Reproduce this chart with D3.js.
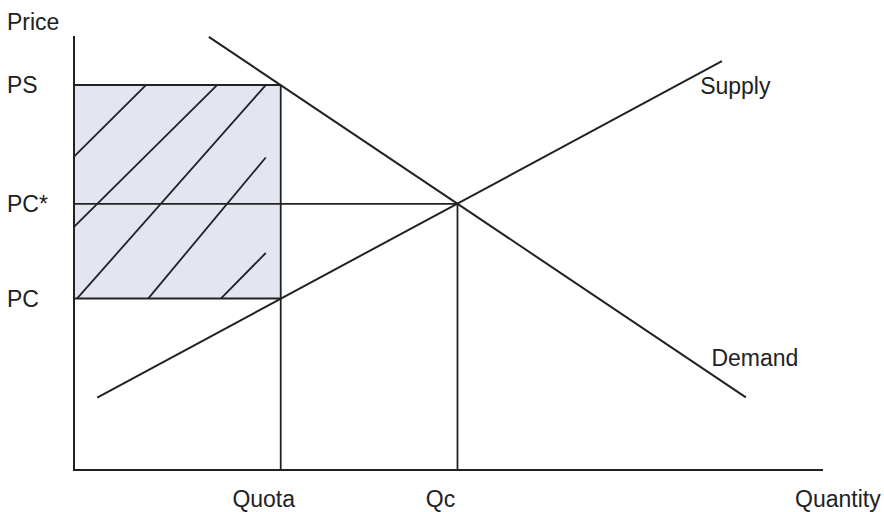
<!DOCTYPE html>
<html><head><meta charset="utf-8">
<script src="https://cdn.jsdelivr.net/npm/d3@7"></script>
<style>
html,body{margin:0;padding:0;background:#fff;}
svg{display:block;}
text{font-family:"Liberation Sans",Arial,sans-serif;font-size:23px;fill:#222;}
</style></head>
<body>
<svg id="chart" width="884" height="512"></svg>
<script>
// ---- data (in chart units: quantity 0-100, price 0-100) ----
const priceLevels = [
  {label: "PS", value: 88.7},
  {label: "PC*", value: 61.3},
  {label: "PC", value: 39.5}
];
const quantityLevels = [
  {label: "Quota", value: 27.6},
  {label: "Qc", value: 51.2}
];
const demandLine = [{q: 18.0, p: 99.8}, {q: 89.7, p: 16.75}];
const supplyLine = [{q: 3.1, p: 16.7}, {q: 86.5, p: 94.2}];
const hatchLines = [
  [{q: 0.0, p: 72.2}, {q: 9.6, p: 88.7}],
  [{q: 0.0, p: 56.0}, {q: 19.1, p: 88.7}],
  [{q: 0.4, p: 39.5}, {q: 25.6, p: 88.7}],
  [{q: 9.9, p: 39.5}, {q: 25.6, p: 72.0}],
  [{q: 19.6, p: 39.5}, {q: 25.6, p: 50.0}]
];
const curveLabels = [
  {text: "Supply", q: 83.6, p: 86.6},
  {text: "Demand", q: 85.1, p: 24.0}
];
const axisTitles = {y: "Price", x: "Quantity"};

// ---- drawing ----
const svg = d3.select("#chart");
const x = d3.scaleLinear().domain([0, 100]).range([74, 823]);
const y = d3.scaleLinear().domain([0, 100]).range([470, 36]);
const line = d3.line().x(d => x(d.q)).y(d => y(d.p));
const ink = "#222";

const PS = priceLevels[0].value, PCs = priceLevels[1].value, PC = priceLevels[2].value;
const quota = quantityLevels[0].value, qc = quantityLevels[1].value;

// shaded rectangle
svg.append("rect")
  .attr("x", x(0)).attr("y", y(PS))
  .attr("width", x(quota) - x(0)).attr("height", y(PC) - y(PS))
  .attr("fill", "#e3e6f0");

// hatching
svg.selectAll(".hatch").data(hatchLines).enter().append("path")
  .attr("class", "hatch").attr("d", line)
  .attr("stroke", ink).attr("stroke-width", 1.8).attr("fill", "none");

// horizontal price lines
svg.append("path").attr("d", line([{q: 0, p: PS}, {q: quota, p: PS}]))
  .attr("stroke", ink).attr("stroke-width", 2).attr("fill", "none");
svg.append("path").attr("d", line([{q: 0, p: PC}, {q: quota, p: PC}]))
  .attr("stroke", ink).attr("stroke-width", 2).attr("fill", "none");
svg.append("path").attr("d", line([{q: 0, p: PCs}, {q: qc, p: PCs}]))
  .attr("stroke", ink).attr("stroke-width", 1.8).attr("fill", "none");

// vertical quantity lines
svg.append("path").attr("d", line([{q: quota, p: PS}, {q: quota, p: 0}]))
  .attr("stroke", ink).attr("stroke-width", 1.8).attr("fill", "none");
svg.append("path").attr("d", line([{q: qc, p: PCs}, {q: qc, p: 0}]))
  .attr("stroke", ink).attr("stroke-width", 1.8).attr("fill", "none");

// supply & demand
[demandLine, supplyLine].forEach(l => {
  svg.append("path").attr("d", line(l))
    .attr("stroke", ink).attr("stroke-width", 2).attr("fill", "none");
});

// axes (plain lines)
svg.append("path").attr("d", line([{q: 0, p: 100}, {q: 0, p: 0}, {q: 100, p: 0}]))
  .attr("stroke", ink).attr("stroke-width", 2).attr("fill", "none");

// price labels
svg.selectAll(".plab").data(priceLevels).enter().append("text")
  .attr("x", 7).attr("y", d => y(d.value) + 8).text(d => d.label);
// quantity labels
svg.selectAll(".qlab").data(quantityLevels).enter().append("text")
  .attr("x", d => x(d.value) - 17).attr("y", 507)
  .attr("text-anchor", "middle").text(d => d.label);
// curve labels
svg.selectAll(".clab").data(curveLabels).enter().append("text")
  .attr("x", d => x(d.q)).attr("y", d => y(d.p)).text(d => d.text);
// axis titles
svg.append("text").attr("x", 7).attr("y", 30).text(axisTitles.y);
svg.append("text").attr("x", 795).attr("y", 507).text(axisTitles.x);
</script>
</body></html>
